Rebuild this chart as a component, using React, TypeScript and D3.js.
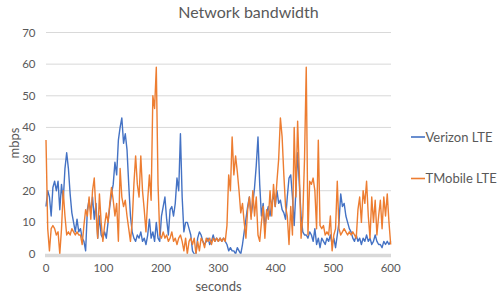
import React from "react";
import * as d3 from "d3";

const STEP = 3;
const verizonLTE = [
  15,20,18,12,21,23,20,23,14,22,
  17,27,32,27,19,13,10,7,11,7,
  8,5,4,1,14,17,13,18,11,16,
  5,12,6,5,7,5,10,15,19,22,
  29,25,36,40,43,35,38,33,22,12,
  7,5,4,6,5,7,4,5,3,6,
  11,5,7,4,10,5,4,12,15,18,
  11,6,14,15,12,16,24,20,38,18,
  7,10,10,8,6,1,0,0,5,7,
  6,4,3,4,5,3,4,6,4,5,
  4,5,4,5,4,3,1,2,1,1,
  0,2,1,0,3,7,11,15,18,12,
  16,21,28,37,22,12,16,8,13,15,
  12,16,19,15,20,16,17,14,13,11,
  18,24,25,18,9,20,32,22,12,7,
  6,6,5,7,6,4,8,3,5,2,
  5,4,3,5,4,6,3,5,2,6,
  10,19,15,16,12,10,8,7,5,4,
  6,4,5,3,5,4,6,4,5,3,
  4,6,4,3,3,2,4,3,4,3,
  4,
];
const tmobileLTE = [
  36,8,1,8,9,8,6,7,0,8,
  20,12,6,7,6,8,7,6,7,6,
  6,3,9,14,12,18,11,20,24,13,
  5,19,10,4,9,13,10,16,21,17,
  12,16,4,27,18,15,17,12,8,4,
  10,22,31,22,18,31,20,14,7,17,
  25,17,50,46,59,22,6,5,7,5,
  6,4,5,7,4,5,3,5,6,4,
  1,5,0,4,5,3,5,0,4,1,
  5,4,2,5,4,5,3,5,4,5,
  4,5,4,5,4,9,25,20,37,25,
  31,26,20,13,16,10,5,14,18,11,
  20,12,18,6,4,10,15,5,14,11,
  20,12,22,15,23,30,43,37,25,15,
  12,3,15,6,40,18,42,25,5,12,
  30,59,6,23,22,24,20,8,36,9,
  8,9,6,7,6,12,1,6,8,23,
  8,6,7,8,7,6,7,6,7,6,
  5,14,18,10,20,16,23,12,5,18,
  10,17,6,12,17,8,18,12,19,10,
  3,
];
const seriesNames = ["Verizon LTE", "TMobile LTE"];
const seriesColors = ["#4472C4", "#ED7D31"];
const xTicks = [0, 100, 200, 300, 400, 500, 600];
const yTicks = [0, 10, 20, 30, 40, 50, 60, 70];

const W = 500, H = 301;
const FONT = "Lato, 'Open Sans', sans-serif";
const TXT = "#595959";

export default function App() {
  const x = d3.scaleLinear().domain([0, 600]).range([46, 390.7]);
  const y = d3.scaleLinear().domain([0, 70]).range([254, 32.5]);
  const line = d3
    .line<number>()
    .x((_, i) => x(i * STEP))
    .y((d) => y(d));
  const series = [verizonLTE, tmobileLTE];
  return (
    <svg width={W} height={H} style={{ position: "absolute", left: 0, top: 0, background: "#fff" }}>
      <text x={248.5} y={17.5} textAnchor="middle" fontFamily={FONT} fontSize={16} fill={TXT}>
        Network bandwidth
      </text>
      {yTicks.filter((t) => t > 0).map((t) => (
        <line key={t} x1={46} x2={391} y1={y(t)} y2={y(t)} stroke="#d9d9d9" strokeWidth={1} />
      ))}
      {yTicks.map((t) => (
        <text key={t} x={35.5} y={y(t)} dy="0.35em" textAnchor="end" fontFamily={FONT} fontSize={11.5} fill={TXT}>
          {t}
        </text>
      ))}
      {xTicks.map((t) => (
        <text key={t} x={x(t)} y={272} textAnchor="middle" fontFamily={FONT} fontSize={11.5} fill={TXT}>
          {t}
        </text>
      ))}
      {series.map((s, i) => (
        <path key={i} d={line(s) || ""} fill="none" stroke={seriesColors[i]} strokeWidth={1.4} strokeLinejoin="round" />
      ))}
      <line x1={45} x2={391} y1={y(0) + 1.5} y2={y(0) + 1.5} stroke="#d9d9d9" strokeWidth={3.5} />
      <text x={218.5} y={291} textAnchor="middle" fontFamily={FONT} fontSize={13} fill={TXT}>
        seconds
      </text>
      <text transform={`translate(18.5,143) rotate(-90)`} textAnchor="middle" fontFamily={FONT} fontSize={13} fill={TXT}>
        mbps
      </text>
      {seriesNames.map((n, i) => (
        <g key={n} transform={`translate(0,${137 + i * 41.5})`}>
          <line x1={411} x2={425} y1={0} y2={0} stroke={seriesColors[i]} strokeWidth={1.6} />
          <text x={425.5} y={0} dy="0.35em" fontFamily={FONT} fontSize={13} fill={TXT}>
            {n}
          </text>
        </g>
      ))}
    </svg>
  );
}
